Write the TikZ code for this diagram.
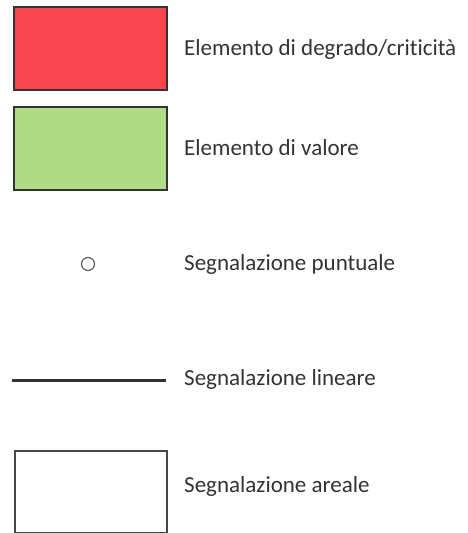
\documentclass[tikz,border=0pt]{standalone}
\usepackage{fontspec}
\setmainfont[Ligatures=NoCommon]{Carlito}
\definecolor{redf}{HTML}{F8464C}
\definecolor{greenf}{HTML}{B0DC88}
\definecolor{ink}{HTML}{333333}
\begin{document}
\begin{tikzpicture}[x=1pt,y=-1pt,
  box/.style={draw=ink,line width=1.6pt},
  lbl/.style={anchor=west,inner sep=0pt,text=ink,font=\fontsize{23}{25}\selectfont}]
\useasboundingbox (0,0) rectangle (467,533);
\fill[white] (0,0) rectangle (467,533);
\draw[box,fill=redf] (14,7) rectangle (167,90);
\node[lbl] (t1) at (184,49) {Elemento di degrado/criticità};
\draw[box,fill=greenf] (14,107) rectangle (167,190);
\node[lbl] (t2) at (184,148) {Elemento di valore};
\node[draw=ink!80,line width=1.2pt,circle,minimum size=13pt,inner sep=0pt] (pt) at (88,264) {};
\node[lbl] (t3) at (184,264) {Segnalazione puntuale};
\coordinate (la) at (12,380);
\coordinate (lb) at (166,380);
\draw[ink,line width=3pt] (la) -- (lb);
\node[lbl] (t4) at (184,379) {Segnalazione lineare};
\draw[draw=ink!90,line width=1.3pt,fill=white] (15,451) rectangle (167,533);
\node[lbl] (t5) at (184,486) {Segnalazione areale};
\end{tikzpicture}
\end{document}
